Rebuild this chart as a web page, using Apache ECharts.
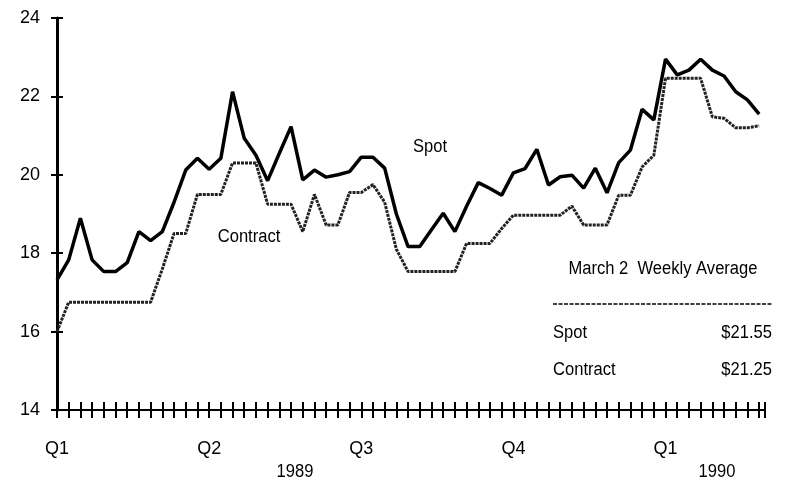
<!DOCTYPE html>
<html>
<head>
<meta charset="utf-8">
<script src="https://cdn.jsdelivr.net/npm/echarts@6/dist/echarts.min.js"></script>
<style>
  html, body { margin: 0; padding: 0; background: #fff; }
  #chart { width: 800px; height: 486px; }
</style>
</head>
<body>
<div id="chart"></div>
<script>
// weekly prices, first week of 1989 through March 2, 1990
const spot = [17.32, 17.83, 18.89, 17.83, 17.53, 17.53, 17.76, 18.55, 18.32, 18.55,
  19.3, 20.12, 20.42, 20.14, 20.42, 22.12, 20.93, 20.5, 19.85, 20.55,
  21.23, 19.87, 20.12, 19.94, 20.0, 20.08, 20.45, 20.45, 20.17, 19.0,
  18.17, 18.17, 18.6, 19.02, 18.55, 19.2, 19.8, 19.65, 19.48, 20.05,
  20.16, 20.65, 19.74, 19.95, 19.99, 19.66, 20.17, 19.54, 20.31, 20.63,
  21.67, 21.4, 22.95, 22.55, 22.67, 22.95, 22.67, 22.52, 22.12, 21.91, 21.55]
const contract = [16.0, 16.75, 16.75, 16.75, 16.75, 16.75, 16.75, 16.75, 16.75, 17.6,
  18.5, 18.5, 19.5, 19.5, 19.5, 20.3, 20.3, 20.3, 19.25, 19.25,
  19.25, 18.55, 19.5, 18.72, 18.72, 19.55, 19.55, 19.75, 19.3, 18.1,
  17.53, 17.53, 17.53, 17.53, 17.53, 18.25, 18.25, 18.25, 18.63, 18.97,
  18.97, 18.97, 18.97, 18.97, 19.2, 18.72, 18.72, 18.72, 19.48, 19.48,
  20.2, 20.5, 22.46, 22.46, 22.46, 22.46, 21.48, 21.44, 21.2, 21.2, 21.25]
const quarterWeeks = [0, 13, 26, 39, 52]
const quarterLabels = ['Q1', 'Q2', 'Q3', 'Q4', 'Q1']
const yearLabels = ['1989', '1990']
const boxTitle = 'March 2  Weekly Average'
const boxRows = [['Spot', '$21.55'], ['Contract', '$21.25']]

const chart = echarts.init(document.getElementById('chart'), null, { renderer: 'canvas' })
const FONT = "'Liberation Sans', Arial, sans-serif"
const INK = '#000'

const xBase = {
  type: 'value',
  min: 0,
  max: 60.5,
  interval: 1,
  position: 'bottom',
  splitLine: { show: false }
}
const yBase = {
  type: 'value',
  min: 14,
  max: 24,
  interval: 2,
  position: 'left',
  splitLine: { show: false }
}

// small helper for the free text (labels in the plot and the average box)
const txt = (text, x, y, align) => ({
  type: 'text',
  x: x,
  y: y,
  scaleX: 0.92,
  style: { text: text, font: `18px ${FONT}`, fill: INK, textAlign: align, textVerticalAlign: 'middle' }
})

const option = {
  backgroundColor: '#fff',
  animation: false,
  grid: { left: 57, right: 35, top: 18, bottom: 76, outerBoundsMode: 'none' },
  xAxis: [
    {
      // axis line + quarter labels
      ...xBase,
      axisLine: { show: true, onZero: false, lineStyle: { color: INK, width: 2 } },
      axisTick: { show: false },
      axisLabel: {
        margin: 30,
        color: INK,
        fontFamily: FONT,
        fontSize: 18,
        formatter: (v) => {
          const i = quarterWeeks.indexOf(v)
          return i >= 0 ? quarterLabels[i] : ''
        }
      }
    },
    {
      // weekly cross ticks: shifted up 8px, 16px long, so they straddle the line
      ...xBase,
      offset: -8,
      axisLine: { show: false, onZero: false },
      axisTick: { show: true, length: 16, lineStyle: { color: INK, width: 2 } },
      axisLabel: { show: false }
    }
  ],
  yAxis: [
    {
      ...yBase,
      axisLine: { show: true, onZero: false, lineStyle: { color: INK, width: 3 } },
      axisTick: { show: false },
      axisLabel: { margin: 17, color: INK, fontFamily: FONT, fontSize: 18 }
    },
    {
      ...yBase,
      offset: -6,
      axisLine: { show: false, onZero: false },
      axisTick: { show: true, length: 12, lineStyle: { color: INK, width: 2 } },
      axisLabel: { show: false }
    }
  ],
  series: [
    {
      name: 'Contract',
      type: 'line',
      xAxisIndex: 1,
      yAxisIndex: 1,
      symbol: 'none',
      data: contract.map((v, i) => [i, v]),
      lineStyle: { color: '#222', width: 3, type: [3, 1] }
    },
    {
      name: 'Spot',
      type: 'line',
      xAxisIndex: 0,
      yAxisIndex: 0,
      symbol: 'none',
      data: spot.map((v, i) => [i, v]),
      lineStyle: { color: INK, width: 3.5 }
    }
  ],
  graphic: [
    txt('Spot', 430, 147, 'center'),
    txt('Contract', 249, 237, 'center'),
    txt(yearLabels[0], 295, 472, 'center'),
    txt(yearLabels[1], 717, 472, 'center'),
    txt(boxTitle, 663, 269, 'center'),
    { type: 'line', shape: { x1: 553, y1: 304, x2: 772, y2: 304 }, style: { stroke: INK, lineWidth: 1.5, lineDash: [4, 1.5] } },
    txt(boxRows[0][0], 553, 333, 'left'),
    txt(boxRows[0][1], 772, 333, 'right'),
    txt(boxRows[1][0], 553, 370, 'left'),
    txt(boxRows[1][1], 772, 370, 'right')
  ]
}

chart.setOption(option)
window.addEventListener('resize', function () {
  chart.resize()
})
</script>
</body>
</html>
